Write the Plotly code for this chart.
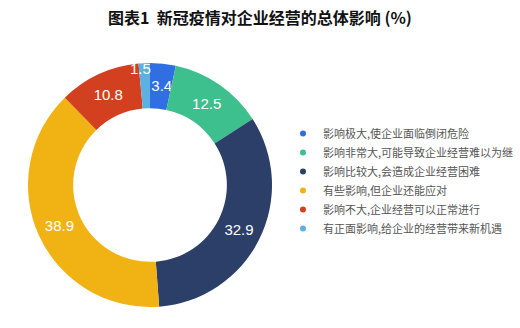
import plotly.graph_objects as go

categories = [
    "影响极大,使企业面临倒闭危险",
    "影响非常大,可能导致企业经营难以为继",
    "影响比较大,会造成企业经营困难",
    "有些影响,但企业还能应对",
    "影响不大,企业经营可以正常进行",
    "有正面影响,给企业的经营带来新机遇",
]
values = [3.4, 12.5, 32.9, 38.9, 10.8, 1.5]
colors = ["#2f6fe3", "#3dbf8e", "#2c3f68", "#f0b313", "#d2401f", "#5cb0e2"]
title_text = "<b>图表1  新冠疫情对企业经营的总体影响 (%)</b>"

W, H = 520, 328
cx, cy, r = 150, 185, 122

# small neighbouring slices: stagger labels to avoid overlap
labels_txt = [f"{v}" for v in values]
labels_txt[0] = "&nbsp;<br>" + labels_txt[0]
labels_txt[-1] = labels_txt[-1] + "&nbsp;&nbsp;"

fig = go.Figure()
fig.add_trace(go.Pie(
    labels=categories,
    values=values,
    text=labels_txt,
    textinfo="text",
    textposition="inside",
    insidetextorientation="horizontal",
    textfont=dict(family="Liberation Sans", size=15, color="white"),
    marker=dict(colors=colors, line=dict(width=0)),
    hole=0.63,
    sort=False,
    direction="clockwise",
    rotation=0,
    showlegend=False,
    domain=dict(x=[(cx - r) / W, (cx + r) / W], y=[(H - cy - r) / H, (H - cy + r) / H]),
))

for name, c in zip(categories, colors):
    fig.add_trace(go.Scatter(
        x=[None], y=[None], mode="markers", name=name,
        marker=dict(color=c, size=6, symbol="circle"),
        showlegend=True,
    ))

fig.update_layout(
    width=W, height=H,
    margin=dict(l=0, r=0, t=0, b=0),
    paper_bgcolor="white", plot_bgcolor="white",
    xaxis=dict(visible=False), yaxis=dict(visible=False),
    uniformtext=dict(minsize=15, mode="show"),
    title=dict(text=title_text, x=0.5, xanchor="center", y=1 - 18 / H, yanchor="middle",
               font=dict(family="Noto Sans CJK SC", size=16, color="#111")),
    legend=dict(x=283 / W, xanchor="left", y=1 - 119 / H, yanchor="top",
                font=dict(family="Noto Sans CJK SC", size=11, color="#555"),
                bgcolor="rgba(0,0,0,0)", itemwidth=30),
)

fig.write_html("out.html")
